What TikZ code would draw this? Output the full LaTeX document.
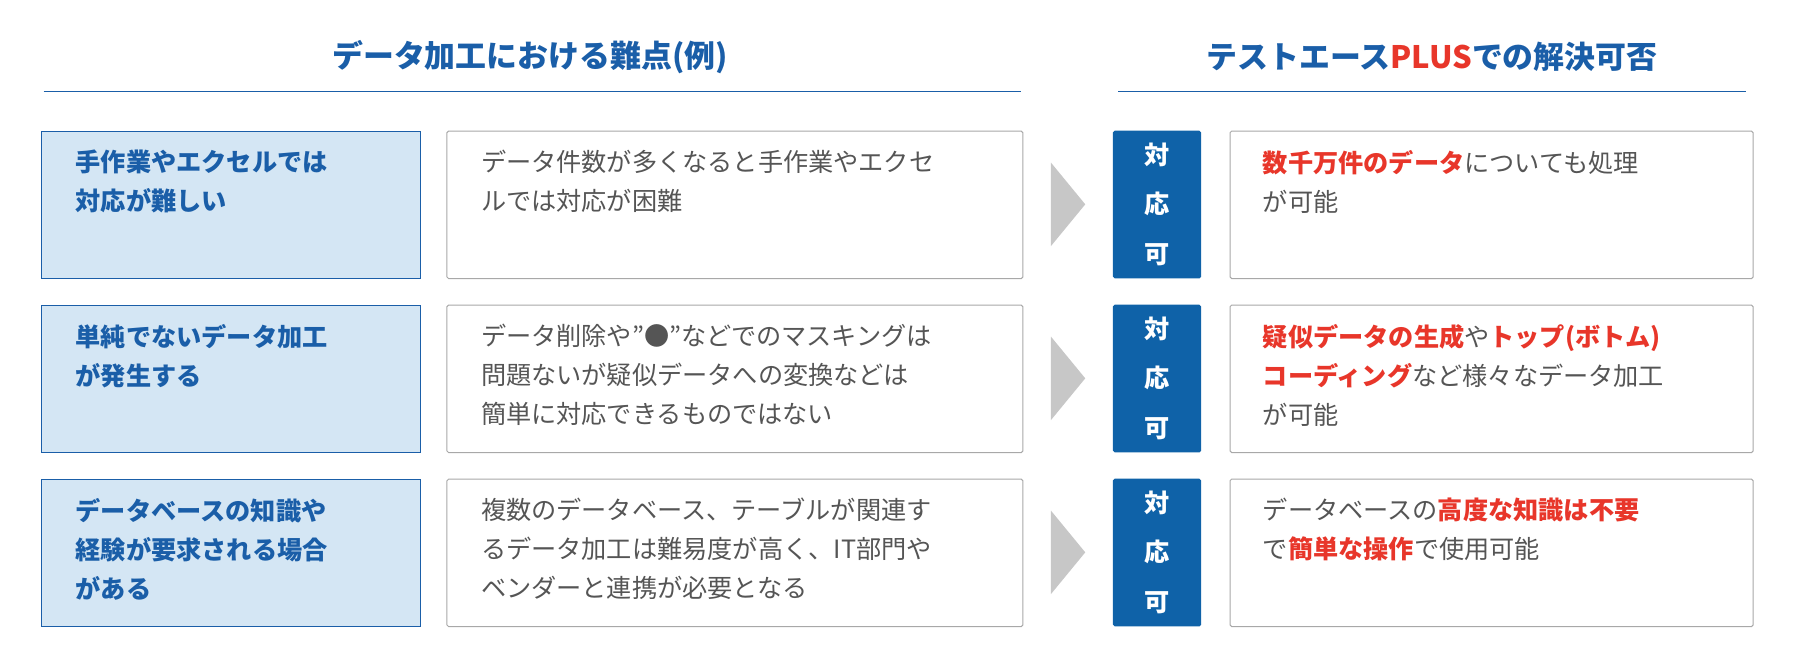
\documentclass[tikz,border=0pt]{standalone}
\usepackage{fontspec}
\setmainfont{Noto Sans CJK JP}
\newfontfamily\jpb{Noto Sans CJK JP Bold}
\definecolor{hblue}{HTML}{1A5EA8}
\definecolor{bblue}{HTML}{0F62A8}
\definecolor{lblue}{HTML}{D4E6F4}
\definecolor{tgray}{HTML}{555555}
\definecolor{bgray}{HTML}{A8A8A8}
\definecolor{rred}{HTML}{E8362A}
\newcommand{\rb}[1]{{\bfseries\color{rred}#1}}
\begin{document}
\begin{tikzpicture}[x=1pt,y=-1pt,
 lab/.style={draw=hblue,fill=lblue,line width=0.8pt,minimum width=331pt,minimum height=129pt,anchor=north west},
 desc/.style={draw=bgray,fill=white,line width=0.9pt,rounded corners=1.5pt,minimum width=503pt,minimum height=129pt,anchor=north west},
 ok/.style={fill=bblue,rounded corners=1.5pt,minimum width=77pt,minimum height=129pt,anchor=north west},
 res/.style={draw=bgray,fill=white,line width=0.9pt,rounded corners=1.5pt,minimum width=457pt,minimum height=129pt,anchor=north west},
 labt/.style={anchor=north west,align=left,font=\fontsize{22}{34}\selectfont\bfseries,text=hblue,inner sep=0pt},
 desct/.style={anchor=north west,align=left,font=\fontsize{22}{34}\selectfont,text=tgray,inner sep=0pt},
 okt/.style={align=center,font=\fontsize{22}{43}\selectfont\bfseries,text=white,inner sep=0pt},
 head/.style={font=\fontsize{27}{30}\selectfont\bfseries,text=hblue},
 chev/.style={fill=black!22}]
\useasboundingbox (0,0) rectangle (1568,583);
\node[head] (h1) at (463,50) {データ加工における難点(例)};
\node[head] (h2) at (1251,50) {テストエース{\color{rred}PLUS}での解決可否};
\coordinate (l1a) at (38,80); \coordinate (l1b) at (892,80);
\coordinate (l2a) at (977,80); \coordinate (l2b) at (1525,80);
\draw[hblue,line width=1.6pt] (l1a) -- (l1b);
\draw[hblue,line width=1.6pt] (l2a) -- (l2b);
\foreach \i/\y in {1/114,2/266,3/418}{
 \node[lab] (lab\i) at (36,\y) {};
 \node[desc] (desc\i) at (390,\y) {};
 \node[ok] (ok\i) at (972,\y) {};
 \node[res] (res\i) at (1074,\y) {};
 \fill[black!22] (918,\y+28) -- (948,\y+64.5) -- (918,\y+101) -- cycle;
 \node[okt] (okt\i) at (1010.5,\y+64.5) {対\\応\\可};
}
\node[labt] (t1) at (66,131) {手作業やエクセルでは\\対応が難しい};
\node[labt] (t2) at (66,283) {単純でないデータ加工\\が発生する};
\node[labt] (t3) at (66,435) {データベースの知識や\\経験が要求される場合\\がある};
\node[desct] (d1) at (420,131) {データ件数が多くなると手作業やエクセ\\ルでは対応が困難};
\node[desct] (d2) at (420,283) {データ削除や”●”などでのマスキングは\\問題ないが疑似データへの変換などは\\簡単に対応できるものではない};
\node[desct] (d3) at (420,435) {複数のデータベース、テーブルが関連す\\るデータ加工は難易度が高く、IT部門や\\ベンダーと連携が必要となる};
\node[desct] (r1) at (1103,131) {\rb{数千万件のデータ}についても処理\\が可能};
\node[desct] (r2) at (1103,283) {\rb{疑似データの生成}や\rb{トップ(ボトム)}\\\rb{コーディング}など様々なデータ加工\\が可能};
\node[desct] (r3) at (1103,435) {データベースの\rb{高度な知識は不要}\\で\rb{簡単な操作}で使用可能};
\end{tikzpicture}
\end{document}
